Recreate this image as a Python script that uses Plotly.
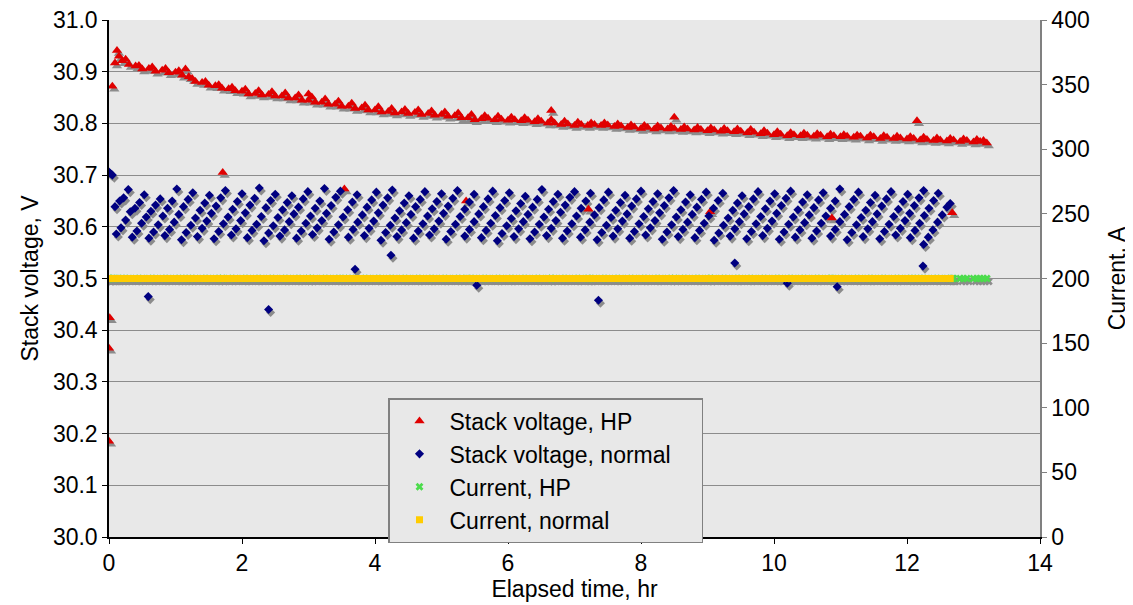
import plotly.graph_objects as go

# ---- axis ticks ----
volt_ticks = [30.0, 30.1, 30.2, 30.3, 30.4, 30.5, 30.6, 30.7, 30.8, 30.9, 31.0]
current_ticks = [0, 50, 100, 150, 200, 250, 300, 350, 400]
time_ticks = [0, 2, 4, 6, 8, 10, 12, 14]

# ---- HP run: stack voltage (V) ----
# start-up points, regular log, high spikes, and the short HP checks
hp_time = [
    0.00, 0.00, 0.01, 0.05, 0.09, 0.12, 0.15,
    0.2, 0.3, 0.4, 0.5, 0.6, 0.7, 0.8, 0.9, 1.0, 1.1, 1.2, 1.3, 1.4, 1.5, 1.6, 1.7, 1.8, 1.9,
    2.0, 2.1, 2.2, 2.3, 2.4, 2.5, 2.6, 2.7, 2.8, 2.9, 3.0, 3.1, 3.2, 3.3, 3.4, 3.5, 3.6, 3.7, 3.8, 3.9,
    4.0, 4.1, 4.2, 4.3, 4.4, 4.5, 4.6, 4.7, 4.8, 4.9, 5.0, 5.1, 5.2, 5.3, 5.4, 5.5, 5.6, 5.7, 5.8, 5.9,
    6.0, 6.1, 6.2, 6.3, 6.4, 6.5, 6.6, 6.7, 6.8, 6.9, 7.0, 7.1, 7.2, 7.3, 7.4, 7.5, 7.6, 7.7, 7.8, 7.9,
    8.0, 8.1, 8.2, 8.3, 8.4, 8.5, 8.6, 8.7, 8.8, 8.9, 9.0, 9.1, 9.2, 9.3, 9.4, 9.5, 9.6, 9.7, 9.8, 9.9,
    10.0, 10.1, 10.2, 10.3, 10.4, 10.5, 10.6, 10.7, 10.8, 10.9, 11.0, 11.1, 11.2, 11.3, 11.4, 11.5, 11.6, 11.7, 11.8, 11.9,
    12.0, 12.1, 12.2, 12.3, 12.4, 12.5, 12.6, 12.7, 12.8, 12.9, 13.0, 13.1, 13.2,
    0.25, 0.45, 0.65, 0.85, 1.05, 1.25, 1.45, 1.65, 1.85, 2.05, 2.25, 2.45, 2.65, 2.85, 3.05, 3.25, 3.45,
    3.65, 3.85, 4.05, 4.25, 4.45, 4.65, 4.85, 5.05, 5.25, 5.45, 5.65, 5.85, 6.05, 6.25, 6.45, 6.65, 6.85,
    7.05, 7.25, 7.45, 7.65, 7.85, 8.05, 8.25, 8.45, 8.65, 8.85, 9.05, 9.25, 9.45, 9.65, 9.85, 10.05, 10.25,
    10.45, 10.65, 10.85, 11.05, 11.25, 11.45, 11.65, 11.85, 12.05, 12.25, 12.45, 12.65, 12.85, 13.05, 13.15,
    1.15, 3.00, 6.65, 8.50, 12.15,
    1.71, 3.54, 5.37, 7.21, 9.04, 10.87, 12.68,
]
hp_volt = [
    30.185, 30.365, 30.424, 30.872, 30.917, 30.941, 30.930,
    30.921, 30.914, 30.911, 30.905, 30.906, 30.901, 30.903, 30.898, 30.899, 30.893, 30.890, 30.881, 30.879, 30.874, 30.873, 30.868, 30.867, 30.863,
    30.862, 30.857, 30.858, 30.855, 30.856, 30.853, 30.853, 30.849, 30.849, 30.845, 30.845, 30.841, 30.841, 30.837, 30.837, 30.833, 30.833, 30.829, 30.830, 30.826,
    30.826, 30.822, 30.823, 30.820, 30.822, 30.819, 30.821, 30.817, 30.819, 30.816, 30.817, 30.814, 30.815, 30.811, 30.811, 30.807, 30.809, 30.810, 30.807, 30.808,
    30.806, 30.807, 30.805, 30.806, 30.803, 30.804, 30.801, 30.801, 30.798, 30.799, 30.796, 30.798, 30.796, 30.798, 30.796, 30.797, 30.794, 30.795, 30.792, 30.793,
    30.790, 30.792, 30.789, 30.791, 30.789, 30.790, 30.788, 30.789, 30.787, 30.788, 30.786, 30.787, 30.785, 30.786, 30.784, 30.785, 30.782, 30.783, 30.780, 30.781,
    30.778, 30.779, 30.776, 30.778, 30.776, 30.777, 30.775, 30.777, 30.774, 30.776, 30.774, 30.775, 30.773, 30.775, 30.772, 30.774, 30.771, 30.773, 30.771, 30.772,
    30.770, 30.771, 30.768, 30.769, 30.767, 30.768, 30.766, 30.768, 30.765, 30.767, 30.764, 30.765, 30.762,
    30.924, 30.912, 30.909, 30.906, 30.902, 30.887, 30.881, 30.875, 30.870, 30.866, 30.863, 30.861, 30.859, 30.855, 30.851, 30.847, 30.843,
    30.839, 30.835, 30.832, 30.829, 30.827, 30.826, 30.824, 30.822, 30.820, 30.817, 30.815, 30.814, 30.812, 30.811, 30.809, 30.807, 30.804,
    30.802, 30.801, 30.801, 30.799, 30.797, 30.796, 30.795, 30.794, 30.793, 30.792, 30.791, 30.790, 30.789, 30.788, 30.786, 30.784, 30.782,
    30.781, 30.780, 30.779, 30.778, 30.777, 30.777, 30.776, 30.775, 30.774, 30.773, 30.772, 30.771, 30.770, 30.769, 30.767,
    30.905, 30.857, 30.825, 30.812, 30.805,
    30.705, 30.673, 30.650, 30.634, 30.629, 30.617, 30.627,
]

# ---- Normal run: stack voltage (V), one row per rising ramp ----
normal_time = [
    0.09, 0.16, 0.22, 0.29,
    0.11, 0.18, 0.25, 0.32, 0.39, 0.46, 0.53,
    0.35, 0.42, 0.49, 0.56, 0.63, 0.70, 0.77,
    0.60, 0.67, 0.74, 0.81, 0.88, 0.95, 1.02,
    0.84, 0.91, 0.98, 1.05, 1.12, 1.19, 1.26,
    1.09, 1.16, 1.23, 1.30, 1.37, 1.44, 1.51,
    1.33, 1.40, 1.47, 1.54, 1.61, 1.68, 1.75,
    1.58, 1.65, 1.72, 1.79, 1.86, 1.93, 2.00,
    1.84, 1.91, 1.98, 2.05, 2.12, 2.19, 2.26,
    2.08, 2.15, 2.22, 2.29, 2.36, 2.43, 2.50,
    2.33, 2.40, 2.47, 2.54, 2.61, 2.68, 2.75,
    2.57, 2.64, 2.71, 2.78, 2.85, 2.92, 2.99,
    2.82, 2.89, 2.96, 3.03, 3.10, 3.17, 3.24,
    3.06, 3.13, 3.20, 3.27, 3.34, 3.41, 3.48,
    3.31, 3.38, 3.45, 3.52, 3.59, 3.66, 3.73,
    3.60, 3.67, 3.74, 3.81, 3.88, 3.95, 4.02,
    3.84, 3.91, 3.98, 4.05, 4.12, 4.19, 4.26,
    4.09, 4.16, 4.23, 4.30, 4.37, 4.44, 4.51,
    4.33, 4.40, 4.47, 4.54, 4.61, 4.68, 4.75,
    4.58, 4.65, 4.72, 4.79, 4.86, 4.93, 5.00,
    4.82, 4.89, 4.96, 5.03, 5.10, 5.17, 5.24,
    5.07, 5.14, 5.21, 5.28, 5.35, 5.42, 5.49,
    5.35, 5.42, 5.49, 5.56, 5.63, 5.70, 5.77,
    5.60, 5.67, 5.74, 5.81, 5.88, 5.95, 6.02,
    5.84, 5.91, 5.98, 6.05, 6.12, 6.19, 6.26,
    6.09, 6.16, 6.23, 6.30, 6.37, 6.44, 6.51,
    6.33, 6.40, 6.47, 6.54, 6.61, 6.68, 6.75,
    6.58, 6.65, 6.72, 6.79, 6.86, 6.93, 7.00,
    6.82, 6.89, 6.96, 7.03, 7.10, 7.17, 7.24,
    7.09, 7.16, 7.23, 7.30, 7.37, 7.44, 7.51,
    7.34, 7.41, 7.48, 7.55, 7.62, 7.69, 7.76,
    7.58, 7.65, 7.72, 7.79, 7.86, 7.93, 8.00,
    7.83, 7.90, 7.97, 8.04, 8.11, 8.18, 8.25,
    8.07, 8.14, 8.21, 8.28, 8.35, 8.42, 8.49,
    8.32, 8.39, 8.46, 8.53, 8.60, 8.67, 8.74,
    8.56, 8.63, 8.70, 8.77, 8.84, 8.91, 8.98,
    8.81, 8.88, 8.95, 9.02, 9.09, 9.16, 9.23,
    9.10, 9.17, 9.24, 9.31, 9.38, 9.45, 9.52,
    9.34, 9.41, 9.48, 9.55, 9.62, 9.69, 9.76,
    9.59, 9.66, 9.73, 9.80, 9.87, 9.94, 10.01,
    9.83, 9.90, 9.97, 10.04, 10.11, 10.18, 10.25,
    10.08, 10.15, 10.22, 10.29, 10.36, 10.43, 10.50,
    10.32, 10.39, 10.46, 10.53, 10.60, 10.67, 10.74,
    10.57, 10.64, 10.71, 10.78, 10.85, 10.92, 10.99,
    10.85, 10.92, 10.99, 11.06, 11.13, 11.20, 11.27,
    11.10, 11.17, 11.24, 11.31, 11.38, 11.45, 11.52,
    11.34, 11.41, 11.48, 11.55, 11.62, 11.69, 11.76,
    11.59, 11.66, 11.73, 11.80, 11.87, 11.94, 12.01,
    11.83, 11.90, 11.97, 12.04, 12.11, 12.18, 12.25,
    12.05, 12.12, 12.19, 12.26, 12.33, 12.40, 12.47,
    12.25, 12.32, 12.39, 12.46, 12.53, 12.60, 12.65,
    0.00, 0.02, 0.05, 0.59, 2.40, 3.70, 4.24, 5.53, 7.36, 9.41, 10.20, 10.95, 12.24,
]
normal_volt = [
    30.639, 30.650, 30.656, 30.672,
    30.586, 30.598, 30.613, 30.629, 30.636, 30.647, 30.662,
    30.580, 30.592, 30.607, 30.619, 30.630, 30.642, 30.654,
    30.578, 30.590, 30.604, 30.621, 30.636, 30.650, 30.673,
    30.583, 30.595, 30.609, 30.624, 30.639, 30.653, 30.666,
    30.575, 30.589, 30.603, 30.617, 30.632, 30.646, 30.661,
    30.581, 30.597, 30.611, 30.626, 30.640, 30.656, 30.670,
    30.577, 30.591, 30.606, 30.619, 30.634, 30.649, 30.664,
    30.584, 30.596, 30.612, 30.627, 30.642, 30.655, 30.675,
    30.579, 30.593, 30.605, 30.620, 30.637, 30.651, 30.663,
    30.573, 30.588, 30.602, 30.618, 30.633, 30.647, 30.660,
    30.582, 30.594, 30.610, 30.625, 30.638, 30.654, 30.668,
    30.578, 30.592, 30.607, 30.621, 30.636, 30.650, 30.674,
    30.585, 30.598, 30.612, 30.626, 30.641, 30.657, 30.669,
    30.576, 30.590, 30.604, 30.619, 30.633, 30.648, 30.662,
    30.580, 30.595, 30.609, 30.623, 30.638, 30.652, 30.667,
    30.583, 30.597, 30.611, 30.627, 30.642, 30.656, 30.671,
    30.574, 30.589, 30.603, 30.617, 30.631, 30.646, 30.660,
    30.581, 30.594, 30.608, 30.624, 30.639, 30.653, 30.668,
    30.578, 30.592, 30.606, 30.621, 30.635, 30.649, 30.664,
    30.584, 30.596, 30.611, 30.626, 30.640, 30.655, 30.670,
    30.576, 30.591, 30.605, 30.620, 30.634, 30.648, 30.663,
    30.582, 30.595, 30.610, 30.625, 30.639, 30.654, 30.669,
    30.579, 30.593, 30.607, 30.622, 30.637, 30.651, 30.666,
    30.573, 30.587, 30.602, 30.616, 30.631, 30.645, 30.659,
    30.581, 30.596, 30.610, 30.624, 30.638, 30.653, 30.672,
    30.577, 30.590, 30.605, 30.619, 30.634, 30.649, 30.663,
    30.583, 30.597, 30.612, 30.628, 30.642, 30.657, 30.668,
    30.578, 30.592, 30.606, 30.621, 30.636, 30.650, 30.665,
    30.580, 30.594, 30.609, 30.623, 30.637, 30.652, 30.667,
    30.575, 30.589, 30.603, 30.618, 30.632, 30.647, 30.661,
    30.582, 30.596, 30.611, 30.625, 30.640, 30.654, 30.669,
    30.578, 30.591, 30.606, 30.620, 30.635, 30.649, 30.664,
    30.584, 30.598, 30.612, 30.627, 30.641, 30.656, 30.670,
    30.576, 30.590, 30.604, 30.619, 30.633, 30.648, 30.662,
    30.581, 30.595, 30.609, 30.624, 30.638, 30.653, 30.667,
    30.579, 30.593, 30.607, 30.621, 30.636, 30.651, 30.665,
    30.574, 30.588, 30.603, 30.617, 30.632, 30.646, 30.660,
    30.582, 30.596, 30.610, 30.625, 30.639, 30.654, 30.668,
    30.577, 30.591, 30.606, 30.620, 30.635, 30.650, 30.664,
    30.583, 30.597, 30.611, 30.626, 30.641, 30.655, 30.669,
    30.576, 30.590, 30.605, 30.619, 30.633, 30.648, 30.662,
    30.580, 30.594, 30.608, 30.623, 30.637, 30.652, 30.666,
    30.578, 30.592, 30.607, 30.621, 30.636, 30.650, 30.673,
    30.582, 30.595, 30.610, 30.624, 30.639, 30.653, 30.667,
    30.575, 30.589, 30.604, 30.618, 30.632, 30.647, 30.661,
    30.581, 30.596, 30.610, 30.625, 30.640, 30.654, 30.668,
    30.577, 30.591, 30.605, 30.620, 30.634, 30.649, 30.663,
    30.584, 30.597, 30.612, 30.626, 30.641, 30.656, 30.670,
    30.579, 30.593, 30.607, 30.622, 30.636, 30.651, 30.665,
    30.566, 30.580, 30.594, 30.609, 30.623, 30.638, 30.645,
    30.706, 30.703, 30.700, 30.465, 30.440, 30.518, 30.545, 30.487, 30.458, 30.530, 30.491, 30.484, 30.524,
]

# ---- Current (A): held at 200 A for both runs, logged with the voltages ----
CURRENT_SETPOINT = 200.0
hp_current = [CURRENT_SETPOINT for _ in hp_time]
normal_current = [CURRENT_SETPOINT for _ in normal_time]

FONT = "Liberation Sans, Arial, sans-serif"
SHADOW = "#8c8c8c"
# the page body adds an 8 px margin, so the figure is 8 px smaller and margins shift by 8
W, H = 1125, 597
L, R, T, B = 101, 93, 12, 68
PW, PH = W - L - R, H - T - B

# shadow offset (px) -> axis-range shift so shadows sit 2 px right, 3 px below
SX, SY = 2, 3
dx = SX * 14 / PW
dyv = SY * 1.0 / PH
dyc = SY * 400 / PH

TRI, DIA, SQ, XS = 9, 7, 7, 7

fig = go.Figure()

# shadows (base subplot, drawn underneath everything)
fig.add_trace(go.Scatter(x=hp_time, y=hp_volt, mode="markers", xaxis="x", yaxis="y",
                         marker=dict(symbol="triangle-up", size=TRI, color=SHADOW),
                         showlegend=False, hoverinfo="skip"))
fig.add_trace(go.Scatter(x=normal_time, y=normal_volt, mode="markers", xaxis="x", yaxis="y",
                         marker=dict(symbol="diamond", size=DIA, color=SHADOW),
                         showlegend=False, hoverinfo="skip"))
fig.add_trace(go.Scatter(x=hp_time, y=hp_current, mode="markers", xaxis="x", yaxis="y4",
                         marker=dict(symbol="x", size=XS, color=SHADOW),
                         showlegend=False, hoverinfo="skip"))
fig.add_trace(go.Scatter(x=normal_time, y=normal_current, mode="markers", xaxis="x", yaxis="y4",
                         marker=dict(symbol="square", size=SQ, color=SHADOW),
                         showlegend=False, hoverinfo="skip"))

# real series
fig.add_trace(go.Scatter(x=hp_time, y=hp_volt, mode="markers", name="Stack voltage, HP",
                         xaxis="x2", yaxis="y2",
                         marker=dict(symbol="triangle-up", size=TRI, color="#e00000")))
fig.add_trace(go.Scatter(x=normal_time, y=normal_volt, mode="markers",
                         name="Stack voltage, normal\u00a0\u00a0\u00a0\u00a0",
                         xaxis="x2", yaxis="y2",
                         marker=dict(symbol="diamond", size=DIA, color="#000080")))
fig.add_trace(go.Scatter(x=hp_time, y=hp_current, mode="markers", name="Current, HP",
                         xaxis="x2", yaxis="y3",
                         marker=dict(symbol="x", size=XS, color="#4cdc4c")))
fig.add_trace(go.Scatter(x=normal_time, y=normal_current, mode="markers", name="Current, normal",
                         xaxis="x2", yaxis="y3",
                         marker=dict(symbol="square", size=SQ, color="#ffcc00")))

tickfont = dict(family=FONT, size=23, color="black")

fig.update_layout(
    width=W, height=H,
    margin=dict(l=L, r=R, t=T, b=B, autoexpand=False),
    paper_bgcolor="white",
    plot_bgcolor="#e8e8e8",
    font=dict(family=FONT, size=23, color="black"),
    # hidden axes carrying the shadows
    xaxis=dict(range=[0 - dx, 14 - dx], visible=False, fixedrange=True, automargin=False),
    yaxis=dict(range=[30 + dyv, 31 + dyv], visible=False, fixedrange=True, automargin=False),
    yaxis4=dict(range=[0 + dyc, 400 + dyc], overlaying="y", visible=False, automargin=False),
    # visible axes
    xaxis2=dict(range=[0, 14], overlaying="x", anchor="y2", side="bottom",
                tickmode="array", tickvals=time_ticks, showgrid=False, zeroline=False,
                showline=True, linecolor="black", linewidth=1.5, automargin=False,
                ticks="outside", ticklen=5, tickcolor="black", tickfont=tickfont,
                ticklabeloverflow="allow",
                title=dict(text="Elapsed time, hr", font=tickfont, standoff=0)),
    yaxis2=dict(range=[30, 31], overlaying="y", anchor="x2", side="left",
                tickmode="array", tickvals=volt_ticks, tickformat=".1f",
                showgrid=True, gridcolor="#8c8c8c", gridwidth=1, zeroline=False,
                showline=True, linecolor="black", linewidth=1.5, automargin=False,
                ticks="outside", ticklen=5, tickcolor="black", tickfont=tickfont,
                ticklabeloverflow="allow",
                title=dict(text="Stack voltage, V", font=tickfont, standoff=8)),
    yaxis3=dict(range=[0, 400], overlaying="y", anchor="x2", side="right",
                tickmode="array", tickvals=current_ticks,
                showgrid=False, zeroline=False,
                showline=True, linecolor="#808080", linewidth=1.5, automargin=False,
                ticks="outside", ticklen=5, tickcolor="#808080", tickfont=tickfont,
                ticklabeloverflow="allow",
                title=dict(text="Current, A", font=tickfont, standoff=20)),
    legend=dict(x=(388 - 109) / PW, y=(537 - 398) / PH, xanchor="left", yanchor="top",
                bgcolor="#e8e8e8", bordercolor="#808080", borderwidth=1.5,
                font=dict(family=FONT, size=23, color="black"),
                itemwidth=50, tracegroupgap=0),
    showlegend=True,
)

fig.write_html("out.html")
